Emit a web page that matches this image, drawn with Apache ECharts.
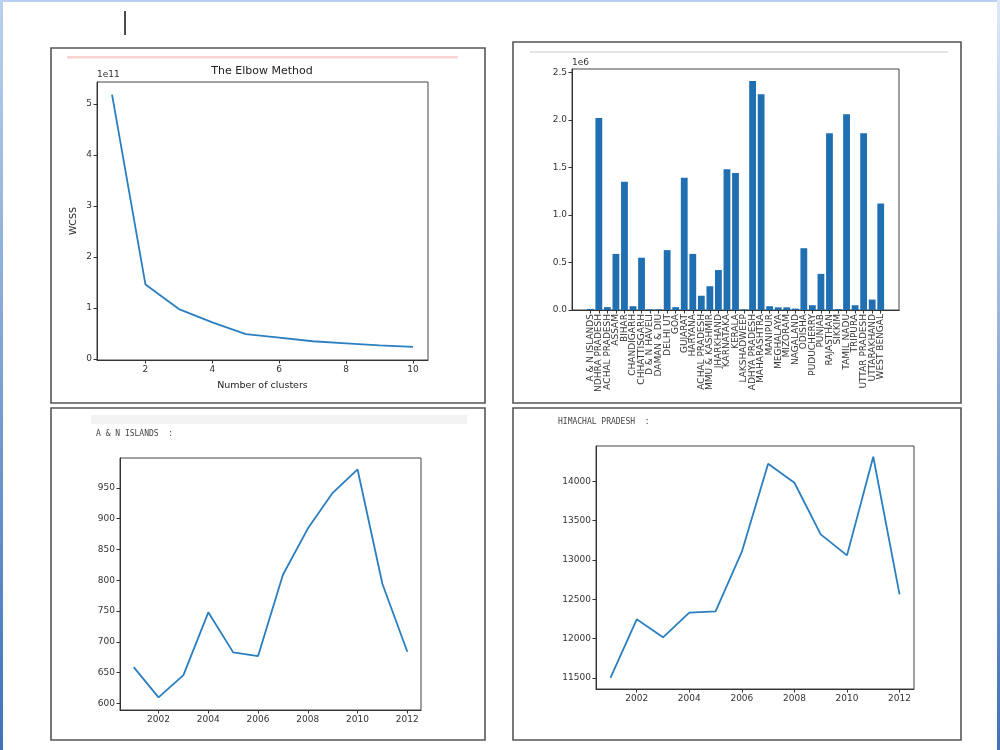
<!DOCTYPE html>
<html>
<head>
<meta charset="utf-8">
<script src="https://cdn.jsdelivr.net/npm/echarts@6/dist/echarts.min.js"></script>
<style>
html,body{margin:0;padding:0;background:#fff;}
#chart{width:1000px;height:750px;}
</style>
</head>
<body>
<div id="chart"></div>
<script>
// ---- Data ----
const elbowK = [1, 2, 3, 4, 5, 6, 7, 8, 9, 10];
const elbowWcss = [5.18e11, 1.46e11, 0.98e11, 0.72e11, 0.49e11, 0.42e11, 0.35e11, 0.31e11, 0.27e11, 0.24e11];
const elbowXTicks = [2, 4, 6, 8, 10];
const elbowYTicks = [0, 1e11, 2e11, 3e11, 4e11, 5e11];

const states = ["A & N ISLANDS", "NDHRA PRADESH", "ACHAL PRADESH", "ASSAM", "BIHAR", "CHANDIGARH",
  "CHHATTISGARH", "D & N HAVELI", "DAMAN & DIU", "DELHI UT", "GOA", "GUJARAT", "HARYANA",
  "ACHAL PRADESH", "MMU & KASHMIR", "JHARKHAND", "KARNATAKA", "KERALA", "LAKSHADWEEP",
  "ADHYA PRADESH", "MAHARASHTRA", "MANIPUR", "MEGHALAYA", "MIZORAM", "NAGALAND", "ODISHA",
  "PUDUCHERRY", "PUNJAB", "RAJASTHAN", "SIKKIM", "TAMIL NADU", "TRIPURA", "UTTAR PRADESH",
  "UTTARAKHAND", "WEST BENGAL"];
const stateTotals = [0.012e6, 2.02e6, 0.03e6, 0.59e6, 1.35e6, 0.04e6, 0.55e6, 0.008e6, 0.008e6,
  0.63e6, 0.03e6, 1.39e6, 0.59e6, 0.15e6, 0.25e6, 0.42e6, 1.48e6, 1.44e6, 0.006e6, 2.41e6,
  2.27e6, 0.04e6, 0.028e6, 0.028e6, 0.015e6, 0.65e6, 0.05e6, 0.38e6, 1.86e6, 0.01e6, 2.06e6,
  0.05e6, 1.86e6, 0.11e6, 1.12e6];
const barYTicks = [0, 0.5e6, 1.0e6, 1.5e6, 2.0e6, 2.5e6];

const years = [2001, 2002, 2003, 2004, 2005, 2006, 2007, 2008, 2009, 2010, 2011, 2012];
const yearTicks = [2002, 2004, 2006, 2008, 2010, 2012];
const anIslands = [659, 610, 646, 748, 683, 677, 809, 884, 942, 980, 794, 684];
const anTicks = [600, 650, 700, 750, 800, 850, 900, 950];
const himachal = [11500, 12246, 12017, 12330, 12347, 13106, 14225, 13983, 13326, 13059, 14314, 12564];
const hpTicks = [11500, 12000, 12500, 13000, 13500, 14000];

// ---- Chart ----
const FONT = 'DejaVu Sans';
const AX = '#333';
const BLUE = '#2a7fc0';

function valAxis(opts) {
  const base = {
    type: 'value',
    scale: true,
    splitLine: { show: false },
    axisLine: { show: true, onZero: false, lineStyle: { color: AX, width: 1 } },
    axisTick: { show: true, length: 3.5, lineStyle: { color: AX }, customValues: opts.ticks },
    axisLabel: { fontFamily: FONT, fontSize: 9, color: '#333', margin: 5,
      showMinLabel: true, showMaxLabel: true, hideOverlap: false,
      customValues: opts.ticks, formatter: opts.fmt || (v => String(v)) },
    nameTextStyle: { fontFamily: FONT, fontSize: 9.5, color: '#222' }
  };
  return Object.assign(base, opts.extra || {});
}

const stateIdx = states.map((s, i) => i);
const evenIdx = stateIdx.filter(i => i % 2 === 0);
const oddIdx = stateIdx.filter(i => i % 2 === 1);
const stateFmt = v => states[Math.round(v)] || '';

const option = {
  backgroundColor: '#ffffff',
  animation: false,
  grid: [
    { left: 97, top: 82, width: 331, height: 278, show: true, borderColor: '#444', borderWidth: 1 },
    { left: 572, top: 69, width: 327, height: 241, show: true, borderColor: '#444', borderWidth: 1 },
    { left: 120, top: 458, width: 301, height: 252, show: true, borderColor: '#444', borderWidth: 1 },
    { left: 596, top: 446, width: 318, height: 243, show: true, borderColor: '#444', borderWidth: 1 }
  ],
  xAxis: [
    valAxis({ ticks: elbowXTicks, extra: { gridIndex: 0, min: 0.55, max: 10.45,
      name: 'Number of clusters', nameLocation: 'middle', nameGap: 21 } }),
    valAxis({ ticks: evenIdx, fmt: stateFmt,
      extra: { gridIndex: 1, min: -2.14, max: 36.14, position: 'bottom', offset: 0 } }),
    valAxis({ ticks: yearTicks, extra: { gridIndex: 2, min: 2000.45, max: 2012.55 } }),
    valAxis({ ticks: yearTicks, extra: { gridIndex: 3, min: 2000.45, max: 2012.55 } }),
    valAxis({ ticks: oddIdx, fmt: stateFmt,
      extra: { gridIndex: 1, min: -2.14, max: 36.14, position: 'bottom', offset: 0 } })
  ],
  yAxis: [
    valAxis({ ticks: elbowYTicks, fmt: v => String(Math.round(v / 1e11)),
      extra: { gridIndex: 0, min: -0.0175e11, max: 5.4275e11,
        name: 'WCSS', nameLocation: 'middle', nameGap: 18 } }),
    valAxis({ ticks: barYTicks, fmt: v => (v / 1e6).toFixed(1),
      extra: { gridIndex: 1, min: 0, max: 2.535e6 } }),
    valAxis({ ticks: anTicks, extra: { gridIndex: 2, min: 589.4, max: 998.6 } }),
    valAxis({ ticks: hpTicks, extra: { gridIndex: 3, min: 11359.5, max: 14450.5 } })
  ],
  series: [
    { type: 'line', xAxisIndex: 0, yAxisIndex: 0, showSymbol: false,
      lineStyle: { color: BLUE, width: 1.8 },
      data: elbowK.map((k, i) => [k, elbowWcss[i]]) },
    { type: 'bar', xAxisIndex: 1, yAxisIndex: 1, barWidth: 6.8,
      itemStyle: { color: '#1f6fb2' },
      data: states.map((s, i) => [i, stateTotals[i]]) },
    { type: 'line', xAxisIndex: 2, yAxisIndex: 2, showSymbol: false,
      lineStyle: { color: BLUE, width: 1.8 },
      data: years.map((y, i) => [y, anIslands[i]]) },
    { type: 'line', xAxisIndex: 3, yAxisIndex: 3, showSymbol: false,
      lineStyle: { color: BLUE, width: 1.8 },
      data: years.map((y, i) => [y, himachal[i]]) }
  ],
  graphic: [
    // window edges
    { type: 'rect', shape: { x: 0, y: 0, width: 1000, height: 2 }, style: { fill: '#b9d1ee' }, silent: true },
    { type: 'rect', shape: { x: 0, y: 0, width: 3, height: 750 }, silent: true,
      style: { fill: { type: 'linear', x: 0, y: 0, x2: 0, y2: 1,
        colorStops: [{ offset: 0, color: '#b9d1ee' }, { offset: 1, color: '#3f72b8' }] } } },
    { type: 'rect', shape: { x: 997, y: 0, width: 3, height: 750 }, silent: true,
      style: { fill: { type: 'linear', x: 0, y: 0, x2: 0, y2: 1,
        colorStops: [{ offset: 0, color: '#dce8f6' }, { offset: 1, color: '#3f72b8' }] } } },
    // cursor
    { type: 'line', shape: { x1: 125, y1: 11, x2: 125, y2: 35 }, style: { stroke: '#111', lineWidth: 1.5 }, silent: true },
    // panel boxes
    { type: 'rect', shape: { x: 51, y: 48, width: 434, height: 355 }, style: { fill: 'none', stroke: '#555', lineWidth: 1.6 }, silent: true },
    { type: 'rect', shape: { x: 513, y: 42, width: 448, height: 361 }, style: { fill: 'none', stroke: '#555', lineWidth: 1.6 }, silent: true },
    { type: 'rect', shape: { x: 51, y: 408, width: 434, height: 332 }, style: { fill: 'none', stroke: '#555', lineWidth: 1.6 }, silent: true },
    { type: 'rect', shape: { x: 513, y: 408, width: 448, height: 332 }, style: { fill: 'none', stroke: '#555', lineWidth: 1.6 }, silent: true },
    // decorations
    { type: 'rect', shape: { x: 67, y: 56, width: 391, height: 2.5 }, style: { fill: '#f7d3d3' }, silent: true },
    { type: 'line', shape: { x1: 530, y1: 52, x2: 948, y2: 52 }, style: { stroke: '#dddddd', lineWidth: 1.5 }, silent: true },
    { type: 'rect', shape: { x: 91, y: 415, width: 376, height: 9 }, style: { fill: '#f3f3f3' }, silent: true },
    // titles / texts
    { type: 'text', x: 262, y: 71, silent: true,
      style: { text: 'The Elbow Method', fontFamily: FONT, fontSize: 11, fill: '#222', align: 'center', verticalAlign: 'middle' } },
    { type: 'text', x: 97, y: 75, silent: true,
      style: { text: '1e11', fontFamily: FONT, fontSize: 9, fill: '#333', align: 'left', verticalAlign: 'middle' } },
    { type: 'text', x: 572, y: 63, silent: true,
      style: { text: '1e6', fontFamily: FONT, fontSize: 9, fill: '#333', align: 'left', verticalAlign: 'middle' } },
    { type: 'text', x: 96, y: 434, silent: true,
      style: { text: 'A & N ISLANDS  :', fontFamily: 'DejaVu Sans Mono', fontSize: 8, fill: '#444', align: 'left', verticalAlign: 'middle' } },
    { type: 'text', x: 558, y: 422, silent: true,
      style: { text: 'HIMACHAL PRADESH  :', fontFamily: 'DejaVu Sans Mono', fontSize: 8, fill: '#444', align: 'left', verticalAlign: 'middle' } }
  ]
};

// rotated category labels for the bar chart (split over two overlaid axes)
[1, 4].forEach(ix => {
  const lab = option.xAxis[ix].axisLabel;
  lab.rotate = 90;
  lab.fontSize = 9;
  lab.interval = 0;
  lab.margin = 4;
});

const chart = echarts.init(document.getElementById('chart'), null, { renderer: 'canvas' });
chart.setOption(option);
</script>
</body>
</html>
